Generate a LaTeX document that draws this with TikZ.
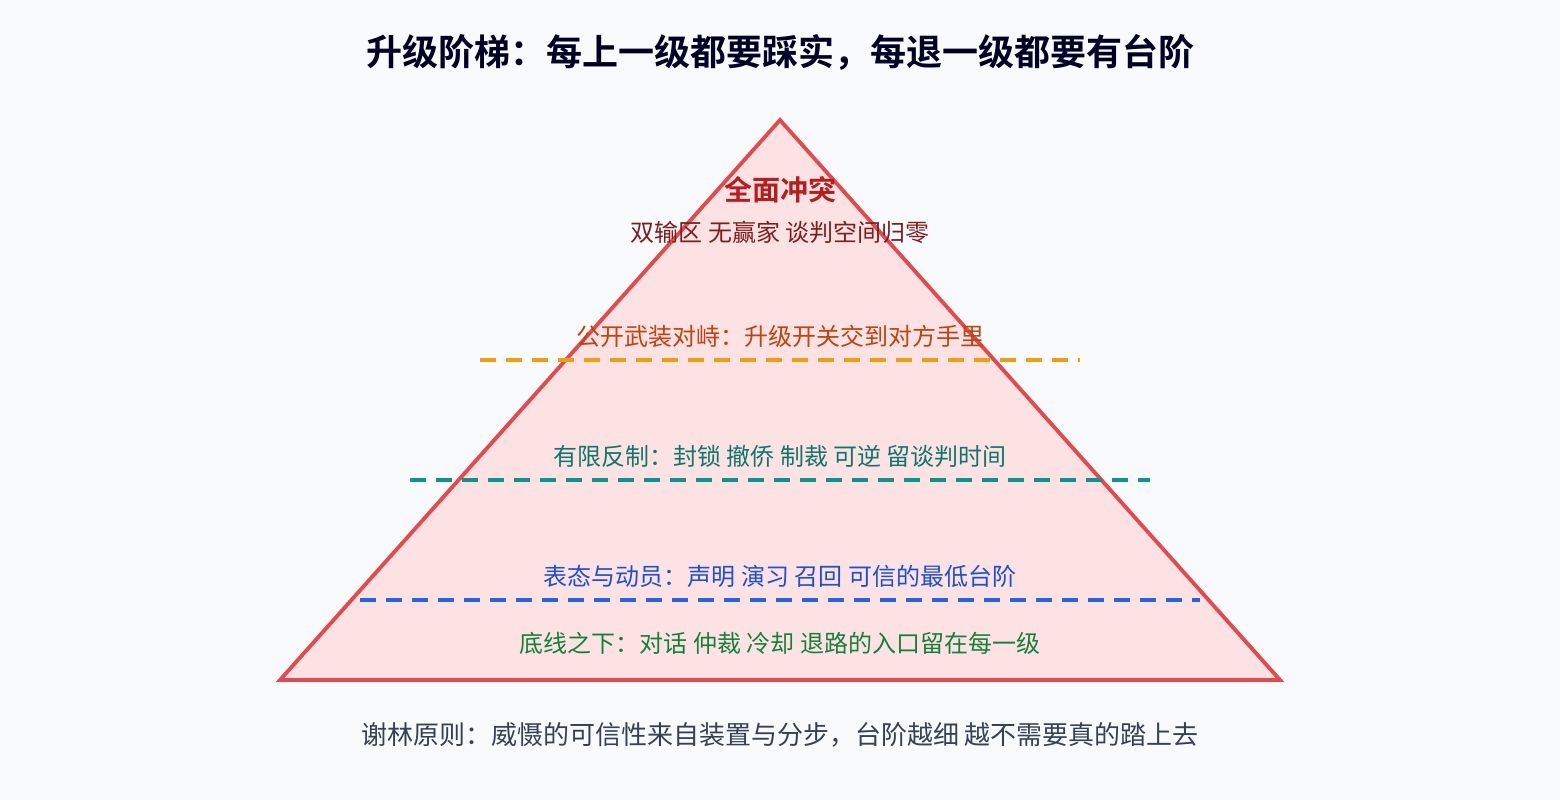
\documentclass[tikz,border=0pt]{standalone}
\usepackage{fontspec}
\setmainfont{Noto Sans CJK SC}
\newfontfamily\cjkb{Noto Sans CJK SC Bold}
\begin{document}
\begin{tikzpicture}[x=1pt,y=-1pt,
  lbl/.style={font=\fontsize{24}{27}\selectfont, inner sep=0pt, anchor=center},
  dl/.style={line width=3.2pt, dash pattern=on 16pt off 10pt}]
\definecolor{bg}{HTML}{F8FAFC}
\definecolor{tri}{HTML}{FDE2E4}
\definecolor{trs}{HTML}{E5484D}
\fill[bg] (0,0) rectangle (1560,800);
\useasboundingbox (0,0) rectangle (1560,800);
\node[font=\cjkb\fontsize{36}{40}\selectfont, text=black!85!blue] (title) at (780,52) {升级阶梯：每上一级都要踩实，每退一级都要有台阶};
\draw[trs, fill=tri, line width=3.8pt, line join=miter] (780,120) -- (1280,680) -- (280,680) -- cycle;
\draw[dl, color={rgb,255:red,240;green,158;blue,11}] (480,360) -- (1080,360);
\draw[dl, color={rgb,255:red,13;green,148;blue,136}] (410,480) -- (1150,480);
\draw[dl, color={rgb,255:red,37;green,99;blue,235}] (360,600) -- (1200,600);
\node[font=\cjkb\fontsize{28}{31}\selectfont, text={rgb,255:red,185;green,28;blue,28}] (top) at (780,190) {全面冲突};
\node[lbl, text={rgb,255:red,127;green,29;blue,29}] (t1) at (780,232) {双输区 无赢家 谈判空间归零};
\node[lbl, text={rgb,255:red,194;green,65;blue,12}] (t2) at (780,336) {公开武装对峙：升级开关交到对方手里};
\node[lbl, text={rgb,255:red,15;green,118;blue,110}] (t3) at (780,456) {有限反制：封锁 撤侨 制裁 可逆 留谈判时间};
\node[lbl, text={rgb,255:red,29;green,78;blue,216}] (t4) at (780,576) {表态与动员：声明 演习 召回 可信的最低台阶};
\node[lbl, text={rgb,255:red,21;green,128;blue,61}] (t5) at (780,643) {底线之下：对话 仲裁 冷却 退路的入口留在每一级};
\node[font=\fontsize{26}{29}\selectfont, text={rgb,255:red,55;green,65;blue,81}] (foot) at (780,735) {谢林原则：威慑的可信性来自装置与分步，台阶越细 越不需要真的踏上去};
\end{tikzpicture}
\end{document}
